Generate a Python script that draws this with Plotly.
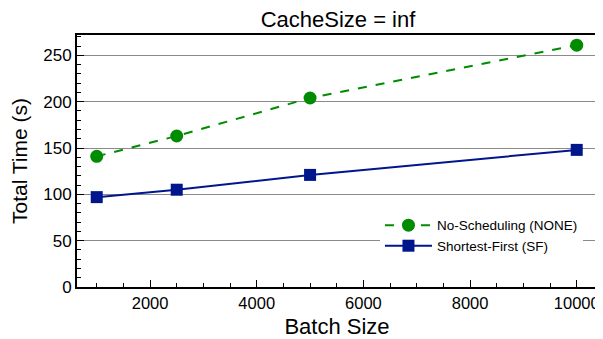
import plotly.graph_objects as go

batch_sizes = [1000, 2500, 5000, 10000]
none_times = [141, 163, 204, 261]
sf_times = [97, 105, 121, 148]
series_names = ["No-Scheduling (NONE)", "Shortest-First (SF)"]
x_ticks = [2000, 4000, 6000, 8000, 10000]
x_ticklabels = ["2000", "4000", "6000", "8000", "10000"]
y_ticks = [0, 50, 100, 150, 200, 250]

GREEN = "#008c00"
BLUE = "#00168c"
FONT = "Liberation Sans, Arial, Helvetica, sans-serif"

fig = go.Figure()
fig.add_trace(go.Scatter(
    x=batch_sizes, y=none_times, name=series_names[0], mode="lines+markers",
    line=dict(color=GREEN, width=2, dash="dash"),
    marker=dict(symbol="circle", size=13, color=GREEN),
))
fig.add_trace(go.Scatter(
    x=batch_sizes, y=sf_times, name=series_names[1], mode="lines+markers",
    line=dict(color=BLUE, width=2),
    marker=dict(symbol="square", size=12, color=BLUE),
))

fig.update_layout(
    width=595, height=331,
    margin=dict(l=69, r=6, t=27, b=52),
    paper_bgcolor="white", plot_bgcolor="white",
    font=dict(family=FONT, color="black"),
    title=dict(text="CacheSize = inf", x=0.5546, xanchor="center", y=0.966, yanchor="middle",
               font=dict(size=22, family=FONT)),
    showlegend=True,
    legend=dict(x=0.973, xanchor="right", y=0.306, yanchor="top",
                bgcolor="white", font=dict(size=13.5, family=FONT),
                tracegroupgap=0, itemwidth=47),
    xaxis=dict(
        range=[630, 10380], tickvals=x_ticks, ticktext=x_ticklabels,
        ticks="inside", ticklen=7, tickwidth=1.2, tickcolor="black",
        minor=dict(dtick=500, tick0=0, ticks="inside", ticklen=4, tickcolor="black", showgrid=False),
        showgrid=False, zeroline=False, automargin=False,
        showline=True, linecolor="black", linewidth=2, mirror=True,
        tickfont=dict(size=16.5, family=FONT),
        title=dict(text="Batch Size", font=dict(size=22, family=FONT)),
    ),
    yaxis=dict(
        range=[0, 272], tickvals=y_ticks,
        ticks="inside", ticklen=7, tickwidth=1.2, tickcolor="black",
        minor=dict(dtick=10, tick0=0, ticks="inside", ticklen=4, tickcolor="black", showgrid=False),
        showgrid=True, gridcolor="#8a8a8a", gridwidth=1, zeroline=False, automargin=False,
        showline=True, linecolor="black", linewidth=2, mirror=True,
        tickfont=dict(size=17, family=FONT),
        title=dict(text="Total Time (s)", font=dict(size=21, family=FONT)),
    ),
)

fig.write_html("out.html")
